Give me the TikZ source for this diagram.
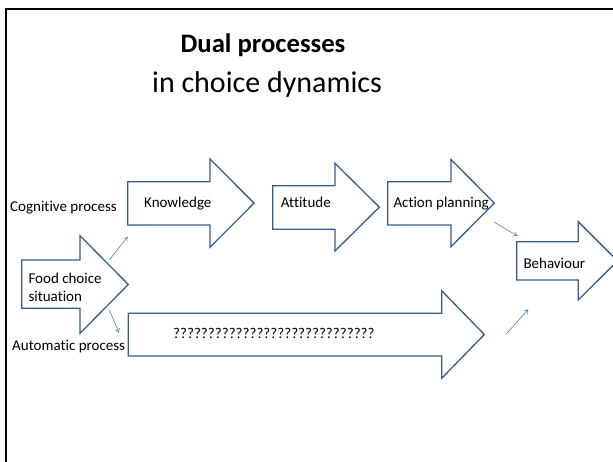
\documentclass[tikz,border=0pt]{standalone}
\usepackage{fontspec}
\setmainfont{Carlito}[Ligatures=NoCommon]
\usetikzlibrary{arrows.meta}
\definecolor{shapeblue}{HTML}{385D8A}
\definecolor{linkblue}{HTML}{4F81BD}
% block arrow: left x, body top, body bottom, head x, head top, head bottom, tip x
\newcommand\blockarrowshape[7]{%
  \draw[blockarrow] (#1,#2) -- (#4,#2) -- (#4,#5) -- (#7,{(#5+#6)/2})
    -- (#4,#6) -- (#4,#3) -- (#1,#3) -- cycle;}
\begin{document}
\begin{tikzpicture}[x=1pt,y=-1pt,
  blockarrow/.style={draw=shapeblue, line width=1.3pt, fill=white, line join=miter},
  lbl/.style={anchor=base west, inner sep=0pt, font=\fontsize{15}{18.3}\selectfont},
  link/.style={draw=linkblue, line width=0.6pt, -{To[length=4pt,width=5pt]}}]
\useasboundingbox (0,0) rectangle (613,462);
\clip (0,0) rectangle (613,462);
\fill[white] (0,0) rectangle (613,462);
% slide frame
\draw[line width=2pt, black] (6,9) rectangle (640,500);

% title
\node[anchor=base, inner sep=0pt, font=\fontsize{26.7}{32}\selectfont\bfseries] (title) at (263,53) {Dual processes};
\node[anchor=base, inner sep=0pt, font=\fontsize{30}{36}\selectfont] (subtitle) at (267,93) {in choice dynamics};

% block arrows
\blockarrowshape{21.7}{260}{308.3}{80}{235.7}{333.3}{128.3}
\blockarrowshape{127.7}{181.7}{225}{210}{159}{247.3}{254}
\blockarrowshape{272.7}{185.7}{229.3}{335}{163.3}{251}{379.3}
\blockarrowshape{387.7}{181.7}{225}{451}{159.5}{246.7}{494.3}
\blockarrowshape{516.7}{241.7}{280}{578.3}{221.7}{300}{617.5}
\blockarrowshape{128.3}{313.3}{356}{441.7}{290.7}{378.3}{484.3}

% labels
\node[lbl] (cog) at (10,212) {Cognitive process};
\node[lbl] (auto) at (12,350.7) {Automatic process};
\node[lbl] (food) at (28.3,283.3) {Food choice};
\node[lbl] (situ) at (28.3,301.7) {situation};
\node[lbl] (know) at (144,207.7) {Knowledge};
\node[lbl] (att) at (280.7,207.3) {Attitude};
\node[lbl] (plan) at (393.3,208) {Action planning};
\node[lbl] (beh) at (523.3,269) {Behaviour};
\node[lbl] (unk) at (173,338.5) {?????????????????????????????};

% thin connectors
\coordinate (f1) at (109.3,260);
\coordinate (k1) at (127.7,236.7);
\coordinate (f2) at (109.3,310);
\coordinate (a1) at (119,332.7);
\coordinate (p1) at (494.3,222.3);
\coordinate (b1) at (517.7,236);
\coordinate (u1) at (506,334.3);
\coordinate (b2) at (528.3,309.3);
\draw[link] (f1) -- (k1);
\draw[link] (f2) -- (a1);
\draw[link] (p1) -- (b1);
\draw[link] (u1) -- (b2);
\end{tikzpicture}
\end{document}
